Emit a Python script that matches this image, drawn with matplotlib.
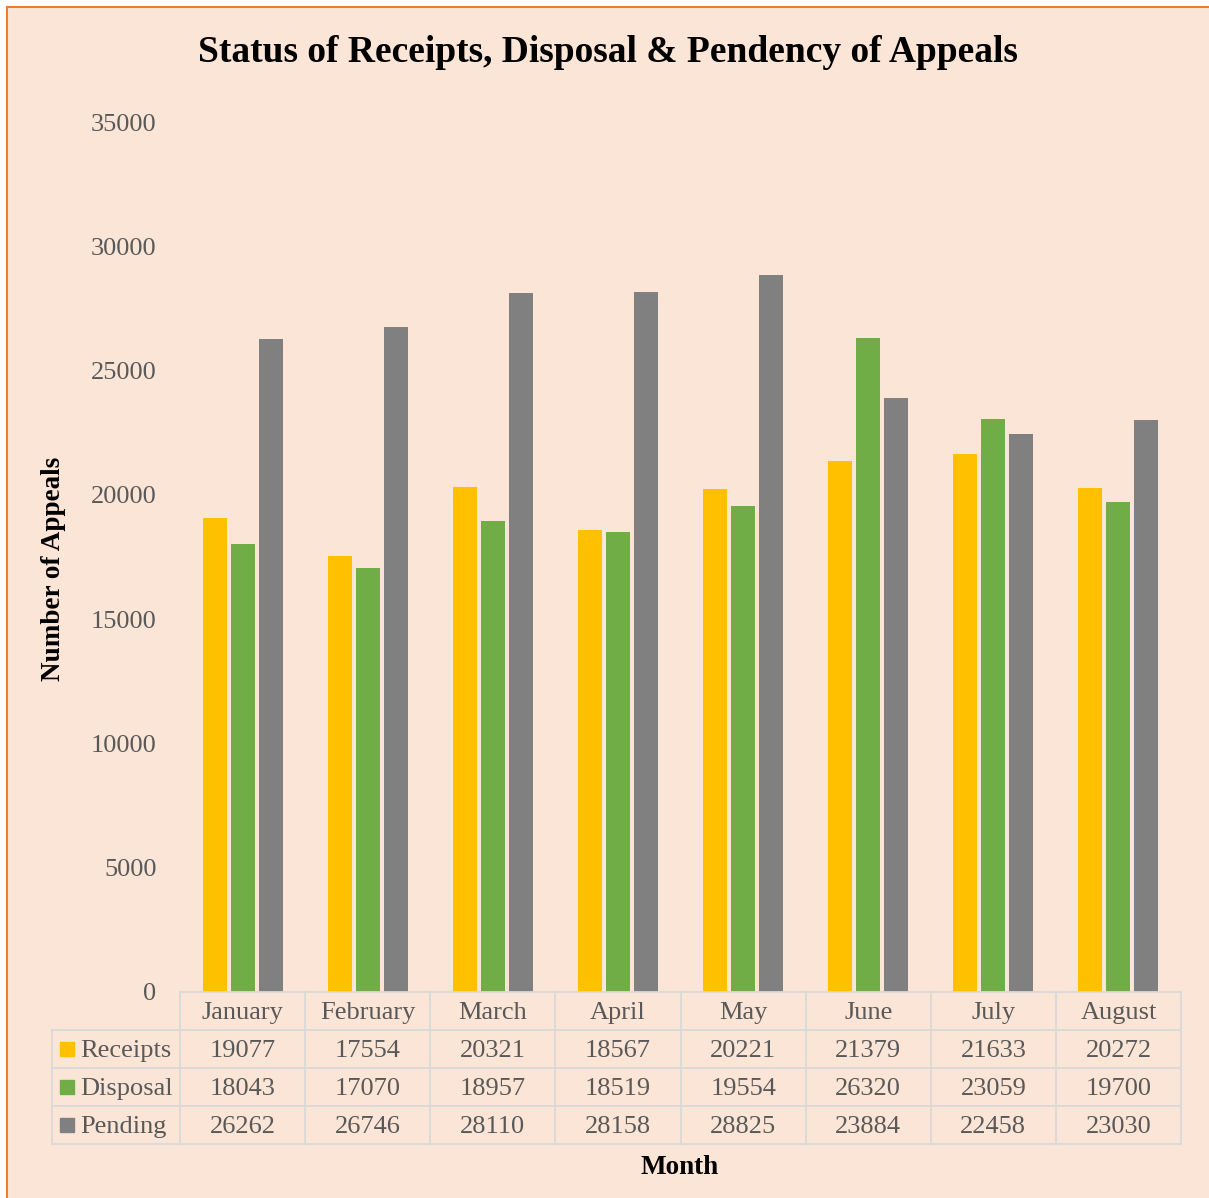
import numpy as np
import matplotlib.pyplot as plt
from matplotlib.lines import Line2D
from matplotlib.patches import Rectangle

# Data
months = ['January', 'February', 'March', 'April', 'May', 'June', 'July', 'August']
receipts = [19077, 17554, 20321, 18567, 20221, 21379, 21633, 20272]
disposal = [18043, 17070, 18957, 18519, 19554, 26320, 23059, 19700]
pending = [26262, 26746, 28110, 28158, 28825, 23884, 22458, 23030]

series_names = ['Receipts', 'Disposal', 'Pending']
series_vals = [receipts, disposal, pending]
colors = ['#FFC000', '#70AD47', '#808080']

bg = '#FBE5D6'
grid_col = '#D9D9D9'
txt_col = '#595959'

plt.rcParams['font.family'] = ['Liberation Serif', 'DejaVu Serif']

W, H = 1209, 1198
fig = plt.figure(figsize=(W / 100, H / 100), dpi=100)
fig.patch.set_facecolor(bg)

# Outer orange frame (only top and left visible)
fig.add_artist(Line2D([7 / W, 7 / W], [0, 1 - 7 / H], color='#ED7D31', lw=1.5))
fig.add_artist(Line2D([7 / W, 1], [1 - 7 / H, 1 - 7 / H], color='#ED7D31', lw=1.5))
fig.add_artist(Rectangle((0, 1 - 6.5 / H), 1, 6.5 / H, color='white', transform=fig.transFigure, zorder=-1))
fig.add_artist(Rectangle((0, 0), 6.5 / W, 1, color='white', transform=fig.transFigure, zorder=-1))

# Main plot
left, right = 180, 1181
top, bottom = 122, 992
ax = fig.add_axes([left / W, 1 - bottom / H, (right - left) / W, (bottom - top) / H])
ax.set_facecolor('none')

x = np.arange(len(months))
bw = 0.192
step = 0.224
for k, (vals, c) in enumerate(zip(series_vals, colors)):
    ax.bar(x + (k - 1) * step, vals, width=bw, color=c, zorder=2)

ax.set_xlim(-0.5, len(months) - 0.5)
ax.set_ylim(0, 35000)
ax.set_yticks(np.arange(0, 35001, 5000))
ax.set_xticks([])
ax.tick_params(axis='y', length=0, pad=17, labelsize=19, labelcolor=txt_col)
for s in ax.spines.values():
    s.set_visible(False)

# Data table under the axes
lab_w = 128 / 125.0  # label column width in category units
tab_top, tab_bot = 992, 1144
tax = fig.add_axes([(left - 128) / W, 1 - tab_bot / H, (right - left + 128) / W, (tab_bot - tab_top) / H])
tax.set_xlim(-0.5 - lab_w, len(months) - 0.5)
tax.set_ylim(4, 0)
tax.axis('off')
tax.patch.set_alpha(0)

lw = 1.3
# horizontal lines
tax.plot([-0.5, len(months) - 0.5], [0, 0], color=grid_col, lw=lw, clip_on=False)
for r in range(1, 5):
    tax.plot([-0.5 - lab_w, len(months) - 0.5], [r, r], color=grid_col, lw=lw, clip_on=False)
# vertical lines
for i in range(len(months) + 1):
    tax.plot([i - 0.5, i - 0.5], [0, 4], color=grid_col, lw=lw, clip_on=False)
tax.plot([-0.5 - lab_w, -0.5 - lab_w], [1, 4], color=grid_col, lw=lw, clip_on=False)

dy = 0.06
for i, m in enumerate(months):
    tax.text(i, 0.5 + dy, m, ha='center', va='center', fontsize=19, color=txt_col)
for r, (name, vals, c) in enumerate(zip(series_names, series_vals, colors)):
    yc = r + 1.5
    for i, v in enumerate(vals):
        tax.text(i, yc + dy, str(v), ha='center', va='center', fontsize=19, color=txt_col)
    kx = -0.5 - lab_w + 8 / 125
    tax.add_patch(Rectangle((kx, yc - 0.19), 14 / 125, 0.38, color=c, clip_on=False))
    tax.text(kx + 20 / 125, yc + dy, name, ha='left', va='center', fontsize=19, color=txt_col)

# Titles
fig.text(608 / W, 1 - 52 / H, 'Status of Receipts, Disposal & Pendency of Appeals',
         ha='center', va='center', fontsize=27, fontweight='bold', color='black')
fig.text(53 / W, 1 - 569 / H, 'Number of Appeals', rotation=90, ha='center', va='center',
         fontsize=19.5, fontweight='bold', color='black')
fig.text(680 / W, 1 - 1168 / H, 'Month', ha='center', va='center',
         fontsize=19.5, fontweight='bold', color='black')

fig.savefig('out.png', dpi=100, facecolor=bg)
